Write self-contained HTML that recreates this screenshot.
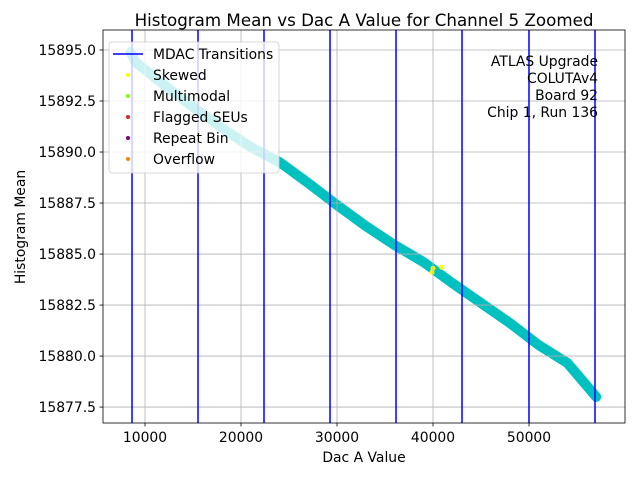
<!DOCTYPE html>
<html><head><meta charset="utf-8"><style>
body{margin:0;background:#fff;font-family:"Liberation Sans","DejaVu Sans",sans-serif}
svg text{font-family:"DejaVu Sans","Liberation Sans",sans-serif}
</style></head><body>
<svg id="chart" width="640" height="480" xmlns="http://www.w3.org/2000/svg"></svg>
<script>
const xTicks=[10000,20000,30000,40000,50000];
const yTicks=[15877.5,15880.0,15882.5,15885.0,15887.5,15890.0,15892.5,15895.0];
const mdacX=[8646,15521,22396,29271,36146,43021,50000,56875];
const meanX=[8500,9000,12000,15000,18000,21000,24000,27000,30000,33000,36000,39000,42000,45000,48000,51000,54000,57000];
const meanY=[15894.9,15894.41,15893.28,15892.21,15891.18,15890.25,15889.51,15888.48,15887.40,15886.37,15885.44,15884.61,15883.58,15882.60,15881.62,15880.54,15879.66,15878.0];
const skewX=[39900,40000,40900];
const skewY=[15884.1,15884.3,15884.35];
const L=103,R=625,T=30,B=423,xmin=5625,xmax=60000,ymin=15876.72,ymax=15895.98;
const sx=v=>L+(v-xmin)/(xmax-xmin)*(R-L), sy=v=>B-(v-ymin)/(ymax-ymin)*(B-T);
const svg=document.getElementById('chart');const NS='http://www.w3.org/2000/svg';
function mk(t,a,p){const e=document.createElementNS(NS,t);for(const k in a)e.setAttribute(k,a[k]);(p||svg).appendChild(e);return e;}
function tx(s,a,name){const e=mk('text',a);e.textContent=s;return e;}
let d=meanX.map((x,i)=>(i?'L':'M')+sx(x)+' '+sy(meanY[i])).join(' ');
const band=mk('path',{d:d,fill:'none',stroke:'#00c0c0','stroke-width':10,'stroke-linecap':'round','stroke-linejoin':'round'});

skewX.forEach((x,i)=>{const c=mk('circle',{cx:sx(x),cy:sy(skewY[i]),r:2.5,fill:'#ffff00'});
});
xTicks.forEach(v=>{const g=mk('line',{x1:sx(v),x2:sx(v),y1:T,y2:B,stroke:'#b0b0b0','stroke-width':0.8});

mk('line',{x1:sx(v),x2:sx(v),y1:B,y2:B+3.5,stroke:'#000','stroke-width':0.8});
tx(v,{x:sx(v),y:B+19,'font-size':13.9,'text-anchor':'middle'},'x-tick-label');});
yTicks.forEach(v=>{const g=mk('line',{x1:L,x2:R,y1:sy(v),y2:sy(v),stroke:'#b0b0b0','stroke-width':0.8});

mk('line',{x1:L-3.5,x2:L,y1:sy(v),y2:sy(v),stroke:'#000','stroke-width':0.8});
tx(v.toFixed(1),{x:L-7,y:sy(v)+5,'font-size':13.9,'text-anchor':'end'},'y-tick-label');});
mdacX.forEach(v=>{const l=mk('line',{x1:sx(v),x2:sx(v),y1:T,y2:B,stroke:'#0000ff','stroke-width':1.5});
});
const fr=mk('rect',{x:L,y:T,width:R-L,height:B-T,fill:'none',stroke:'#000','stroke-width':0.8});

tx('Histogram Mean vs Dac A Value for Channel 5 Zoomed',{x:364,y:26,'font-size':16.7,'text-anchor':'middle'},'chart-title');
tx('Dac A Value',{x:364,y:462,'font-size':13.9,'text-anchor':'middle'},'x-axis-title');
tx('Histogram Mean',{x:25,y:227,'font-size':13.9,'text-anchor':'middle',transform:'rotate(-90 25 227)'},'y-axis-title');
['ATLAS Upgrade','COLUTAv4','Board 92','Chip 1, Run 136'].forEach((s,i)=>tx(s,{x:598,y:66+i*17,'font-size':13.9,'text-anchor':'end'},'annotation-line'));
const lg=mk('g',{});
mk('rect',{x:109,y:42,width:170,height:131,rx:3,fill:'#fff','fill-opacity':0.8,stroke:'#ccc','stroke-width':0.8},lg);
mk('line',{x1:113,x2:143,y1:54,y2:54,stroke:'#0000ff','stroke-width':1.5},lg);
tx('MDAC Transitions',{x:153,y:59,'font-size':13.9},'legend-mdac-transitions');
const items=[['Skewed','#ffff00'],['Multimodal','#80ff00'],['Flagged SEUs','#d62728'],['Repeat Bin','#800080'],['Overflow','#ff7f0e']];
items.forEach((it,i)=>{const y=75+i*21;mk('circle',{cx:128,cy:y,r:2,fill:it[1]},lg);
tx(it[0],{x:153,y:y+5,'font-size':13.9},'legend-entry');});
</script>
</body></html>
